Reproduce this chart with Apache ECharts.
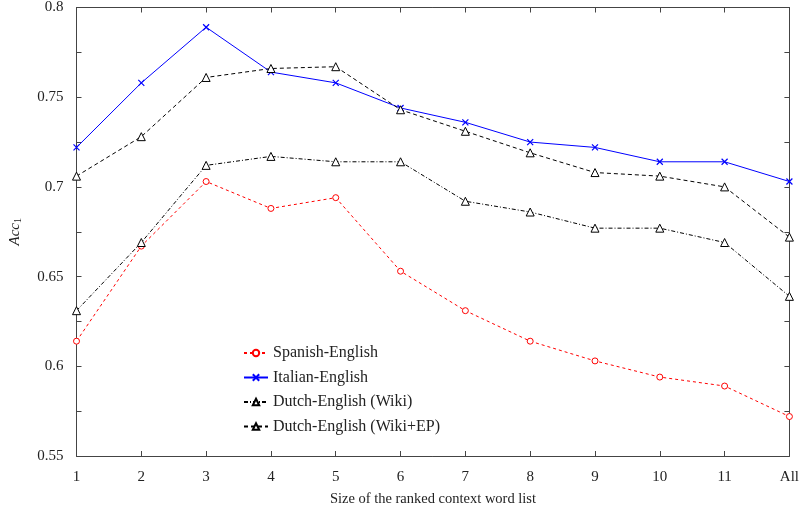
<!DOCTYPE html>
<html><head><meta charset="utf-8">
<script src="https://cdn.jsdelivr.net/npm/echarts@6/dist/echarts.min.js"></script>
<style>html,body{margin:0;padding:0;background:#fff}#c{width:802px;height:513px}</style>
</head><body><div id="c"></div>
<script>
const categories = ['1','2','3','4','5','6','7','8','9','10','11','All'];
const spanish = [0.614,0.667,0.703,0.688,0.694,0.653,0.631,0.614,0.603,0.594,0.589,0.572];
const italian = [0.722,0.758,0.789,0.764,0.758,0.744,0.736,0.725,0.722,0.714,0.714,0.703];
const dutchWiki = [0.631,0.669,0.712,0.717,0.714,0.714,0.692,0.686,0.677,0.677,0.669,0.639];
const dutchWikiEP = [0.706,0.728,0.761,0.766,0.767,0.743,0.731,0.719,0.708,0.706,0.700,0.672];
const yTicks = [0.55,0.6,0.65,0.7,0.75,0.8];

const font = 'Liberation Serif, DejaVu Serif, serif';
const axisCol = '#444';
const chart = echarts.init(document.getElementById('c'));
const crossPath = 'path://M0,0L10,10M10,0L0,10';
function fmtY(v){ return String(+v.toFixed(2)); }
chart.setOption({
  animation:false,
  textStyle:{fontFamily:font},
  grid:{left:73,right:11,top:7,bottom:57},
  legend:{
    orient:'vertical', left:238, top:340, itemGap:8.5, itemWidth:24, itemHeight:8,
    textStyle:{fontFamily:font,fontSize:16,lineHeight:16,color:'#222'},
    data:['Spanish-English','Italian-English','Dutch-English (Wiki)','Dutch-English (Wiki+EP)']
  },
  xAxis:[{
    type:'category', data:categories, boundaryGap:false,
    name:'Size of the ranked context word list', nameLocation:'middle', nameGap:36,
    nameTextStyle:{fontFamily:font,fontSize:14.5,color:'#222'},
    axisLine:{lineStyle:{color:axisCol,width:1}},
    axisTick:{inside:true,length:5,alignWithLabel:true,lineStyle:{color:axisCol}},
    axisLabel:{fontFamily:font,fontSize:15,color:'#222',margin:14},
    splitLine:{show:false}
  },{
    type:'category', data:categories, boundaryGap:false, position:'top',
    axisLine:{lineStyle:{color:axisCol,width:1}},
    axisTick:{inside:true,length:5,lineStyle:{color:axisCol}},
    axisLabel:{show:false}, splitLine:{show:false}
  }],
  yAxis:[{
    type:'value', min:0.55, max:0.8, interval:0.05,
    name:'{i|Acc}{s|1}', nameLocation:'middle', nameGap:53, nameRotate:90,
    nameTextStyle:{rich:{i:{fontFamily:font,fontStyle:'italic',fontSize:15,color:'#222'},s:{fontFamily:font,fontSize:10,color:'#222',verticalAlign:'bottom',padding:[6,0,0,0]}}},
    axisLine:{show:true,lineStyle:{color:axisCol,width:1}},
    axisTick:{show:true,inside:true,length:5,lineStyle:{color:axisCol}},
    minorTick:{show:true,splitNumber:2,length:5,lineStyle:{color:axisCol}},
    axisLabel:{fontFamily:font,fontSize:15,color:'#222',margin:13,formatter:fmtY},
    splitLine:{show:false}
  },{
    type:'value', min:0.55, max:0.8, interval:0.05, position:'right',
    axisLine:{show:true,lineStyle:{color:axisCol,width:1}},
    axisTick:{show:true,inside:true,length:5,lineStyle:{color:axisCol}},
    minorTick:{show:true,splitNumber:2,length:5,lineStyle:{color:axisCol}},
    axisLabel:{show:false}, splitLine:{show:false}
  }],
  series:[
    {name:'Spanish-English', type:'line', data:spanish, symbol:'circle', symbolSize:6,
     itemStyle:{color:'#fff',borderColor:'#ff0000',borderWidth:1}, 
     lineStyle:{color:'#ff0000',width:1,type:[3,3]}, emphasis:{disabled:true}},
    {name:'Italian-English', type:'line', data:italian, symbol:crossPath, symbolSize:6,
     itemStyle:{color:'#0000ff',borderColor:'#0000ff',borderWidth:1.2},
     lineStyle:{color:'#0000ff',width:1,type:'solid'}, emphasis:{disabled:true}},
    {name:'Dutch-English (Wiki)', type:'line', data:dutchWiki, symbol:'triangle', symbolSize:8,
     itemStyle:{color:'#fff',borderColor:'#000',borderWidth:1},
     lineStyle:{color:'#000',width:1,type:[4,2,1,2]}, emphasis:{disabled:true}},
    {name:'Dutch-English (Wiki+EP)', type:'line', data:dutchWikiEP, symbol:'triangle', symbolSize:8,
     itemStyle:{color:'#fff',borderColor:'#000',borderWidth:1},
     lineStyle:{color:'#000',width:1,type:[4,3]}, emphasis:{disabled:true}}
  ]
});
</script></body></html>
